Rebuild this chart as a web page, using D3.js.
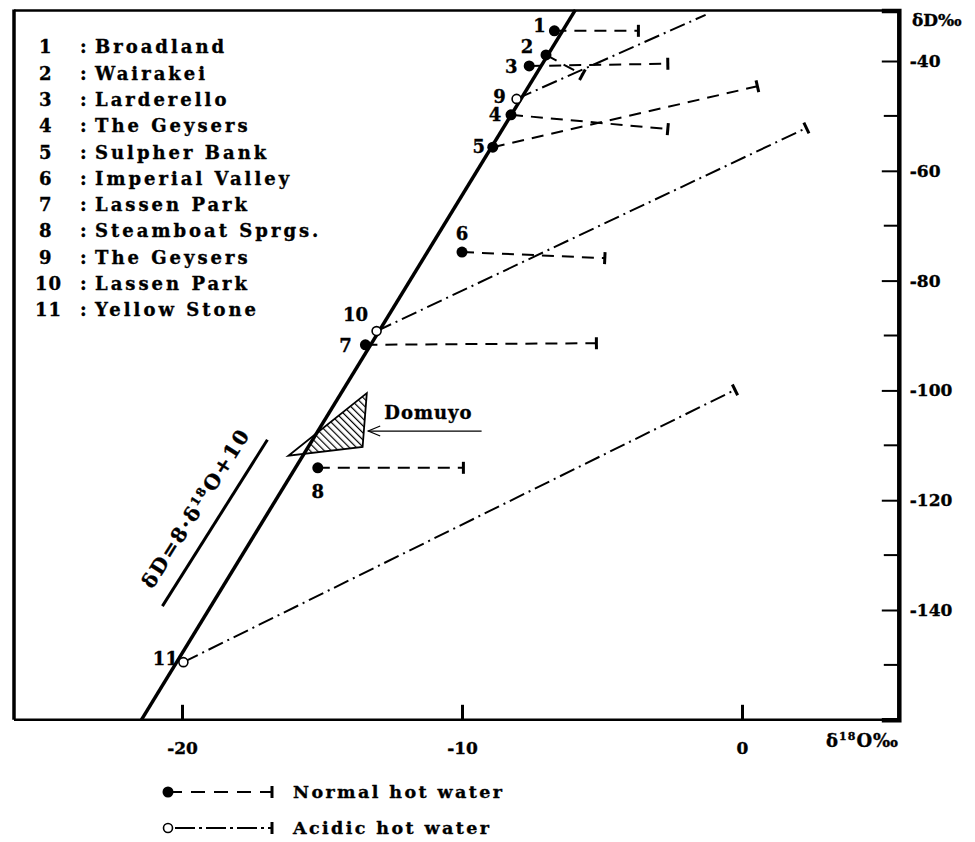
<!DOCTYPE html>
<html>
<head>
<meta charset="utf-8">
<script src="https://cdn.jsdelivr.net/npm/d3@7"></script>
<style>
    body { margin: 0; background: #fff; }
    text { font-family: "DejaVu Serif", "Liberation Serif", serif; font-weight: bold; fill: #000; stroke: #000; stroke-width: 0.35px; }
</style>
</head>
<body>
<svg id="chart" width="975" height="842"></svg>
<script>
// site list, numbered 1..11 as in the key
var siteNumbers = [1, 2, 3, 4, 5, 6, 7, 8, 9, 10, 11];
var siteNames = ['Broadland', 'Wairakei', 'Larderello', 'The Geysers', 'Sulpher Bank', 'Imperial Valley',
    'Lassen Park', 'Steamboat Sprgs.', 'The Geysers', 'Lassen Park', 'Yellow Stone'];
var siteTypes = ['normal', 'normal', 'normal', 'normal', 'normal', 'normal', 'normal', 'normal',
    'acidic', 'acidic', 'acidic'];
// deep water (start) and surface water (end) compositions, permil
var startO18 = [-6.7, -7.0, -7.6, -8.25, -8.9, -10.0, -13.45, -15.15, -8.05, -13.05, -19.95];
var startD = [-34.5, -38.9, -40.9, -49.8, -55.7, -74.8, -91.7, -114.1, -46.9, -89.2, -149.5];
var endO18 = [-3.7, -5.7, -2.65, -2.65, 0.55, -4.9, -5.2, -9.95, -1.3, 2.3, -0.25];
var endD = [-34.5, -42.5, -40.5, -52.4, -44.6, -75.9, -91.4, -114.1, -31.6, -52.2, -99.9];

// meteoric water line as drawn, plus the short parallel line by its label
var meteoricO18 = [-21.45, -5.95];
var meteoricD = [-160, -30.7];
var keyLineO18 = [-20.7, -16.95];
var keyLineD = [-139.3, -109.0];

// Domuyo field
var domuyoO18 = [-13.4, -16.2, -13.55];
var domuyoD = [-100.5, -111.9, -110.3];

var xTicks = [-20, -10, 0];
var yMajorTicks = [-40, -60, -80, -100, -120, -140];
var yMinorTicks = [-50, -70, -90, -110, -130, -150];

var svg = d3.select('#chart');

var x = d3.scaleLinear().domain([-26, 5.6]).range([14, 898.8]);
var y = d3.scaleLinear().domain([-30.8, -160]).range([10.5, 719.8]);

var dashNormal = '12,8';
var dashAcidic = '16,5,2,5';

var sites = siteNumbers.map(function(n, i) {
    return {
        n: n, name: siteNames[i], type: siteTypes[i],
        x0: startO18[i], y0: startD[i], x1: endO18[i], y1: endD[i]
    };
});

// label offsets (px) so numbers sit where the original put them
var labelOffset = {
    1: [-15, -5], 2: [-19, -8], 3: [-18, 1], 4: [-16, 0], 5: [-14, 0], 6: [0, -18],
    7: [-20, 1], 8: [0, 24], 9: [-17, -2], 10: [-21, -16], 11: [-18, -3]
};

var defs = svg.append('defs');
defs.append('pattern')
    .attr('id', 'hatch')
    .attr('patternUnits', 'userSpaceOnUse')
    .attr('width', 5).attr('height', 5)
    .attr('patternTransform', 'rotate(-45)')
    .append('line')
    .attr('x1', 0).attr('y1', 0).attr('x2', 0).attr('y2', 5)
    .attr('stroke', '#000').attr('stroke-width', 2.4);

// hatching only on the right of the meteoric line
defs.append('clipPath').attr('id', 'rightOfMwl')
    .append('polygon')
    .attr('points', [
        [x(meteoricO18[0]), y(meteoricD[0])],
        [x(meteoricO18[1]), y(meteoricD[1])],
        [975, y(meteoricD[1])],
        [975, y(meteoricD[0])]
    ].join(' '));

// ---- frame ----
var xl = x.range()[0], xr = x.range()[1], yt = y.range()[0], yb = y.range()[1];
svg.append('line').attr('x1', xl).attr('y1', yt).attr('x2', xr).attr('y2', yt)
    .attr('stroke', '#000').attr('stroke-width', 2.5);
svg.append('line').attr('x1', xl).attr('y1', yt - 1).attr('x2', xl).attr('y2', yb)
    .attr('stroke', '#000').attr('stroke-width', 3.5);
svg.append('line').attr('x1', xl).attr('y1', yb).attr('x2', xr).attr('y2', yb)
    .attr('stroke', '#000').attr('stroke-width', 2.5);

// right axis with inward ticks
var yAxis = d3.axisRight(y)
    .tickValues(yMajorTicks)
    .tickSize(-17)
    .tickPadding(24)
    .tickFormat(function(d) { return '-' + Math.abs(d); });

var yAxisG = svg.append('g')
    .attr('transform', 'translate(' + xr + ',0)')
    .call(yAxis);
yAxisG.select('.domain').attr('stroke-width', 4.5);
yAxisG.selectAll('.tick line').attr('stroke-width', 2);
yAxisG.selectAll('.tick text')
    .attr('x', 11)
    .attr('text-anchor', 'start')
    .style('font-family', '"DejaVu Serif", serif')
    .style('font-weight', 'bold')
    .style('font-size', '17px');

yAxisG.selectAll('.minor')
    .data(yMinorTicks)
    .enter().append('line')
    .attr('class', 'minor')
    .attr('x1', -15).attr('x2', 0)
    .attr('y1', function(d) { return y(d); })
    .attr('y2', function(d) { return y(d); })
    .attr('stroke', '#000').attr('stroke-width', 2);

svg.append('text')
    .attr('x', 912).attr('y', 26)
    .style('font-size', '17px')
    .text('δD‰');

// bottom axis, ticks pointing up
var xAxis = d3.axisBottom(x)
    .tickValues(xTicks)
    .tickSize(-15)
    .tickPadding(22)
    .tickFormat(function(d) { return d === 0 ? '0' : '-' + Math.abs(d); });

var xAxisG = svg.append('g')
    .attr('transform', 'translate(0,' + yb + ')')
    .call(xAxis);
xAxisG.select('.domain').remove();
xAxisG.selectAll('.tick line').attr('stroke-width', 3);
xAxisG.selectAll('.tick text')
    .style('font-family', '"DejaVu Serif", serif')
    .style('font-weight', 'bold')
    .style('font-size', '17px');

var xTitle = svg.append('text')
    .attr('x', 899).attr('y', 747)
    .attr('text-anchor', 'end')
    .style('font-size', '18px')
    .style('letter-spacing', '1px');
xTitle.append('tspan').text('δ');
xTitle.append('tspan').attr('dy', -7).style('font-size', '11px').text('18');
xTitle.append('tspan').attr('dy', 7).text('O‰');

// ---- meteoric water line ----
var line = d3.line()
    .x(function(d) { return x(d[0]); })
    .y(function(d) { return y(d[1]); });

svg.append('path')
    .attr('d', line(d3.zip(meteoricO18, meteoricD)))
    .attr('fill', 'none').attr('stroke', '#000').attr('stroke-width', 3.5);

svg.append('path')
    .attr('d', line(d3.zip(keyLineO18, keyLineD)))
    .attr('fill', 'none').attr('stroke', '#000').attr('stroke-width', 3);

// equation label rotated along the short line
var kx = x(d3.mean(keyLineO18)) - 19, ky = y(d3.mean(keyLineD)) - 15;
var angle = Math.atan2(y(keyLineD[1]) - y(keyLineD[0]), x(keyLineO18[1]) - x(keyLineO18[0])) * 180 / Math.PI;
var mwlText = svg.append('text')
    .attr('transform', 'translate(' + kx + ',' + ky + ') rotate(' + angle + ')')
    .attr('text-anchor', 'middle')
    .style('font-size', '20px')
    .style('letter-spacing', '2px');
mwlText.append('tspan').attr('dy', '0.35em').text('δD=8·δ');
mwlText.append('tspan').attr('dy', -7).style('font-size', '12px').text('18');
mwlText.append('tspan').attr('dy', 7).text('O+10');

// ---- Domuyo field ----
var domuyoPts = d3.zip(domuyoO18, domuyoD);
svg.append('path')
    .attr('d', line(domuyoPts) + 'Z')
    .attr('fill', 'url(#hatch)')
    .attr('clip-path', 'url(#rightOfMwl)');
svg.append('path')
    .attr('d', line(domuyoPts) + 'Z')
    .attr('fill', 'none').attr('stroke', '#000').attr('stroke-width', 1.8);

// pointer to the field
var arrowFrom = [-9.3, -107.4], arrowTo = [-13.35, -107.4];
svg.append('line')
    .attr('x1', x(arrowFrom[0])).attr('y1', y(arrowFrom[1]))
    .attr('x2', x(arrowTo[0])).attr('y2', y(arrowTo[1]))
    .attr('stroke', '#000').attr('stroke-width', 1.2);
svg.append('path')
    .attr('d', 'M' + (x(arrowTo[0]) + 12) + ',' + (y(arrowTo[1]) - 5) +
        'L' + x(arrowTo[0]) + ',' + y(arrowTo[1]) +
        'L' + (x(arrowTo[0]) + 12) + ',' + (y(arrowTo[1]) + 5))
    .attr('fill', 'none').attr('stroke', '#000').attr('stroke-width', 1.2);
svg.append('text')
    .attr('x', x(-11.2)).attr('y', y(-104.1) + 6)
    .attr('text-anchor', 'middle')
    .style('font-size', '18px')
    .style('letter-spacing', '1px')
    .text('Domuyo');

// ---- site trends ----
function endCap(g, xa, ya, xb, yb2, len) {
    var dx = xb - xa, dy = yb2 - ya, l = Math.sqrt(dx * dx + dy * dy);
    var nx = -dy / l * len, ny = dx / l * len;
    g.append('line')
        .attr('x1', xb - nx).attr('y1', yb2 - ny)
        .attr('x2', xb + nx).attr('y2', yb2 + ny)
        .attr('stroke', '#000').attr('stroke-width', 3);
}

var siteG = svg.append('g');
sites.forEach(function(s) {
    var g = siteG.append('g');
    var xa = x(s.x0), ya = y(s.y0), xb = x(s.x1), yb2 = y(s.y1);
    g.append('line')
        .attr('x1', xa).attr('y1', ya).attr('x2', xb).attr('y2', yb2)
        .attr('stroke', '#000').attr('stroke-width', 2)
        .attr('stroke-dasharray', s.type === 'normal' ? dashNormal : dashAcidic);
    // line 9 runs up to the frame, no cap visible there
    if (s.n !== 9) {
        endCap(g, xa, ya, xb, yb2, 6);
    }
    if (s.type === 'normal') {
        g.append('circle').attr('cx', xa).attr('cy', ya).attr('r', 5.5).attr('fill', '#000');
    } else {
        g.append('circle').attr('cx', xa).attr('cy', ya).attr('r', 4.5)
            .attr('fill', '#fff').attr('stroke', '#000').attr('stroke-width', 1.6);
    }
    var off = labelOffset[s.n];
    g.append('text')
        .attr('x', xa + off[0]).attr('y', ya + off[1])
        .attr('text-anchor', 'middle')
        .attr('dy', '0.35em')
        .style('font-size', '18px')
        .text(s.n);
});

// ---- key of sites (top left) ----
var key = svg.append('g').attr('transform', 'translate(0,47)');
var rows = key.selectAll('g.row')
    .data(sites)
    .enter().append('g')
    .attr('class', 'row')
    .attr('transform', function(d, i) { return 'translate(0,' + (i * 26.3) + ')'; });
rows.append('text')
    .attr('x', function(d) { return d.n < 10 ? 39 : 35; })
    .attr('dy', '0.35em')
    .style('font-size', '18px')
    .style('letter-spacing', '1px')
    .text(function(d) { return d.n; });
rows.append('text')
    .attr('x', 80)
    .attr('dy', '0.35em')
    .style('font-size', '18px')
    .text(':');
rows.append('text')
    .attr('x', 95)
    .attr('dy', '0.35em')
    .style('font-size', '18px')
    .style('letter-spacing', '3px')
    .text(function(d) { return d.name; });

// ---- legend of water types (bottom) ----
var legendRows = [
    { type: 'normal', label: 'Normal hot water', y: 792 },
    { type: 'acidic', label: 'Acidic hot water', y: 828 }
];
legendRows.forEach(function(r) {
    var g = svg.append('g');
    g.append('line')
        .attr('x1', 168).attr('y1', r.y).attr('x2', 272).attr('y2', r.y)
        .attr('stroke', '#000').attr('stroke-width', 2)
        .attr('stroke-dasharray', r.type === 'normal' ? '14,9' : '3,4,20,4');
    endCap(g, 168, r.y, 272, r.y, 6);
    if (r.type === 'normal') {
        g.append('circle').attr('cx', 168).attr('cy', r.y).attr('r', 5.5).attr('fill', '#000');
    } else {
        g.append('circle').attr('cx', 168).attr('cy', r.y).attr('r', 4.5)
            .attr('fill', '#fff').attr('stroke', '#000').attr('stroke-width', 1.6);
    }
    g.append('text')
        .attr('x', 293).attr('y', r.y)
        .attr('dy', '0.35em')
        .style('font-size', '17.5px')
        .style('letter-spacing', '2.4px')
        .text(r.label);
});
</script>
</body>
</html>
